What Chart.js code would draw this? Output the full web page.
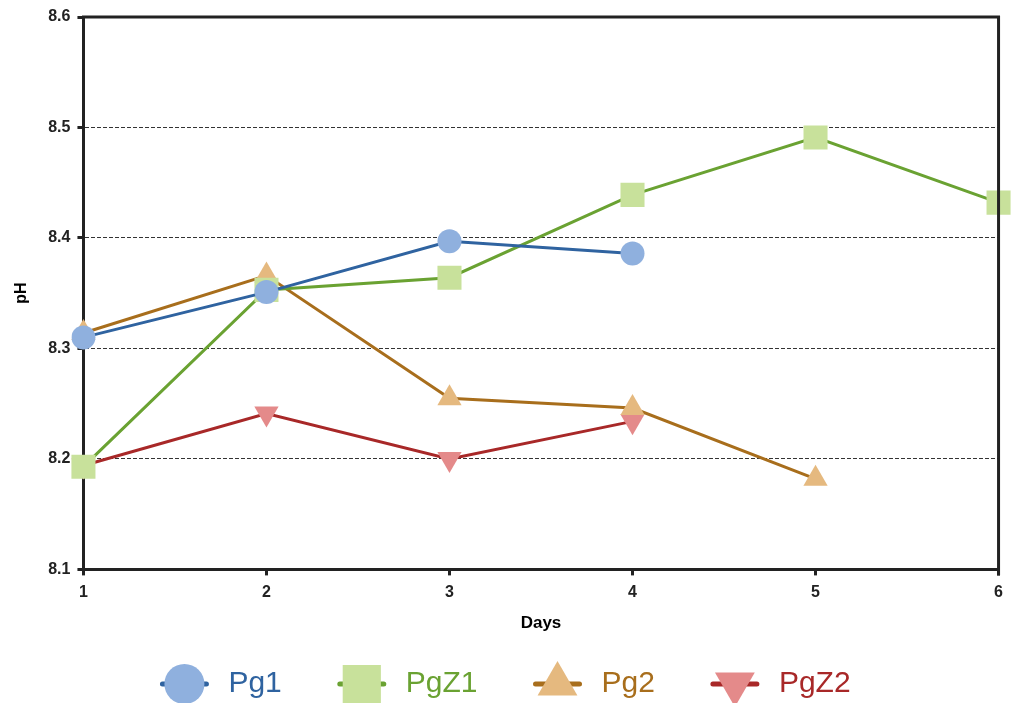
<!DOCTYPE html>
<html>
<head>
<meta charset="utf-8">
<script src="https://cdn.jsdelivr.net/npm/chart.js@4"></script>
<style>
	html, body { margin: 0; padding: 0; background: #fff; }
</style>
</head>
<body>
<canvas id="chart" width="1011" height="703"></canvas>
<script>
// pH readings per day
const days = ["1", "2", "3", "4", "5", "6"];
const pg1 = [8.31, 8.351, 8.397, 8.386];
const pgZ1 = [8.193, 8.353, 8.364, 8.439, 8.491, 8.432];
const pg2 = [8.314, 8.366, 8.255, 8.246, 8.182];
const pgZ2 = [8.194, 8.241, 8.2, 8.234];
const yTicks = [8.1, 8.2, 8.3, 8.4, 8.5, 8.6];

const FONT = "'Liberation Sans', Arial, Helvetica, sans-serif";
const AXIS = "#222";

const makeSet = (label, data, line, fill, style, radius, rotation) => ({
	label,
	data,
	borderColor: line,
	borderWidth: 3,
	pointBackgroundColor: fill,
	pointBorderWidth: 0,
	pointStyle: style,
	pointRadius: radius,
	pointHoverRadius: radius,
	pointRotation: rotation,
	tension: 0,
	fill: false,
});

// top + right frame lines
const framePlugin = {
	id: "frame",
	afterDraw(chart) {
		const { ctx, chartArea: a } = chart;
		ctx.save();
		ctx.strokeStyle = AXIS;
		ctx.lineWidth = 3;
		ctx.beginPath();
		ctx.moveTo(a.left - 1.5, a.top);
		ctx.lineTo(a.right, a.top);
		ctx.lineTo(a.right, a.bottom + 6);
		ctx.stroke();
		ctx.restore();
	},
};

// legend with line + big marker
const legendPlugin = {
	id: "markerLegend",
	afterDraw(chart) {
		const ctx = chart.ctx;
		ctx.save();
		ctx.font = `30px ${FONT}`;
		const gap = 56;
		const items = chart.data.datasets.map(ds => ({
			ds,
			w: 68 + ctx.measureText(ds.label).width,
		}));
		const total = items.reduce((s, it) => s + it.w, 0) + gap * (items.length - 1);
		let x = (chart.width - total) / 2;
		const y = 684;
		items.forEach(({ ds, w }) => {
			ctx.strokeStyle = ds.borderColor;
			ctx.lineWidth = 5;
			ctx.lineCap = "round";
			ctx.beginPath();
			ctx.moveTo(x + 2, y);
			ctx.lineTo(x + 46, y);
			ctx.stroke();
			ctx.fillStyle = ds.pointBackgroundColor;
			const r = ds.pointStyle == "rect" ? 27 : ds.pointStyle == "triangle" ? 23 : 20;
			Chart.helpers.drawPoint(
				ctx,
				{ pointStyle: ds.pointStyle, rotation: ds.pointRotation, radius: r, borderWidth: 0 },
				x + 24,
				y
			);
			ctx.fillStyle = ds.borderColor;
			ctx.textBaseline = "middle";
			ctx.textAlign = "left";
			ctx.fillText(ds.label, x + 68, y);
			x += w + gap;
		});
		ctx.restore();
	},
};

const ctx = document.querySelector("#chart").getContext("2d");
const myChart = new Chart(ctx, {
	type: "line",
	data: {
		labels: days,
		datasets: [
			makeSet("Pg1", pg1, "#2f63a0", "#8fb0de", "circle", 12, 0),
			makeSet("PgZ1", pgZ1, "#6aa232", "#c8e19b", "rect", 17, 0),
			makeSet("Pg2", pg2, "#a86e1c", "#e5b97f", "triangle", 14, 0),
			makeSet("PgZ2", pgZ2, "#a82828", "#e48a8a", "triangle", 14, 180),
		],
	},
	options: {
		responsive: false,
		animation: false,
		events: [],
		layout: { autoPadding: false, padding: { top: 17, right: 12, bottom: 65, left: 4 } },
		plugins: {
			legend: { display: false },
			tooltip: { enabled: false },
		},
		scales: {
			x: {
				offset: false,
				grid: {
					drawOnChartArea: false,
					drawTicks: true,
					tickLength: 6,
					tickColor: AXIS,
					tickWidth: 3,
				},
				border: { color: AXIS, width: 3 },
				ticks: {
					color: AXIS,
					padding: 8,
					maxRotation: 0,
					font: { family: FONT, size: 16, weight: "bold" },
				},
				title: {
					display: true,
					text: "Days",
					color: "#000",
					padding: { top: 3, bottom: 4 },
					font: { family: FONT, size: 17, weight: "bold" },
				},
			},
			y: {
				min: 8.1,
				max: 8.6,
				afterBuildTicks: axis => {
					axis.ticks = yTicks.map(v => ({ value: v }));
				},
				grid: {
					color: c => (c.index === 0 || c.index === yTicks.length - 1 ? "rgba(0,0,0,0)" : "#333"),
					lineWidth: 1,
					drawTicks: true,
					tickLength: 6,
					tickColor: AXIS,
					tickWidth: 3,
					tickBorderDash: [],
				},
				border: { color: AXIS, width: 3, dash: [4, 2] },
				ticks: {
					color: AXIS,
					padding: 7,
					callback: v => Number(v).toFixed(1),
					font: { family: FONT, size: 16, weight: "bold" },
				},
				title: {
					display: true,
					text: "pH",
					color: "#000",
					padding: { top: 8, bottom: 10 },
					font: { family: FONT, size: 16, weight: "bold" },
				},
			},
		},
	},
	plugins: [framePlugin, legendPlugin],
});
</script>
</body>
</html>
